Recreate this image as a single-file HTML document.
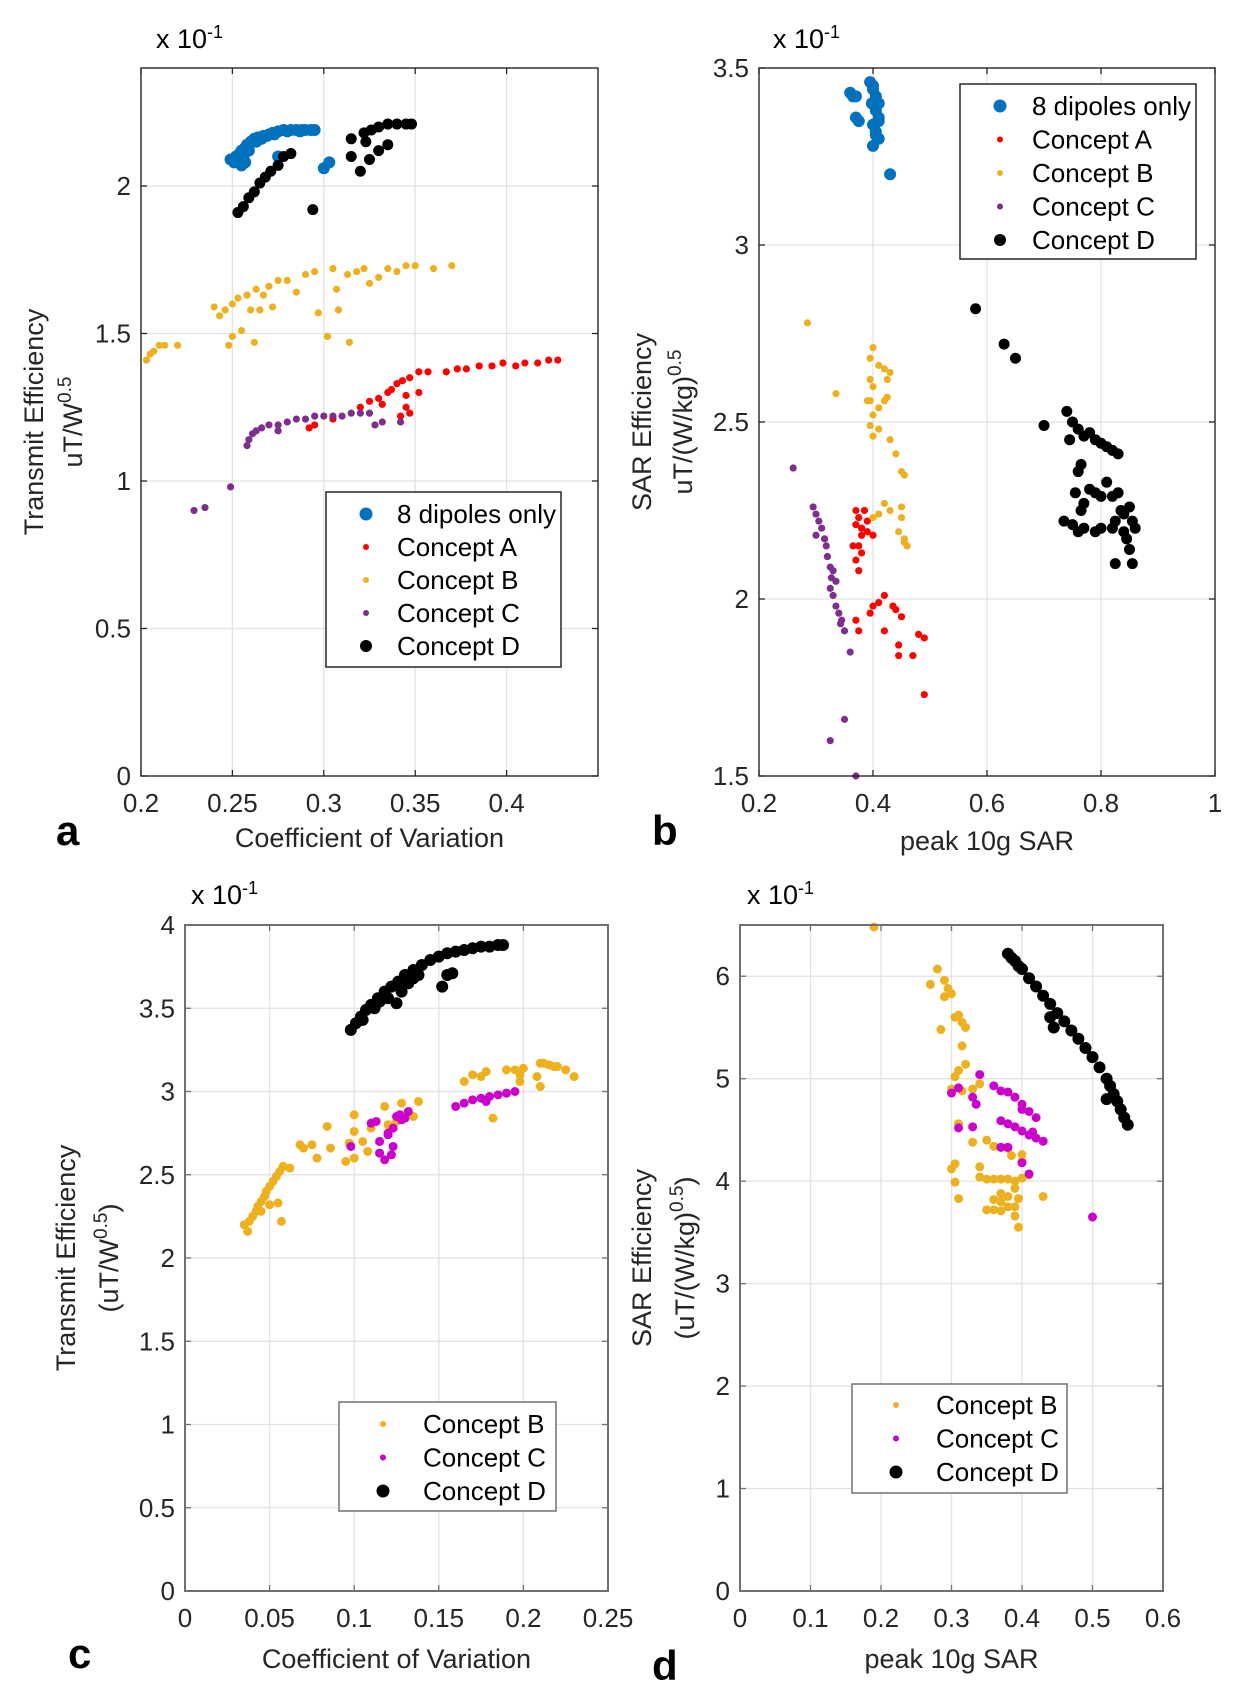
<!DOCTYPE html>
<html><head><meta charset="utf-8">
<style>
html,body{margin:0;padding:0;background:#fff;}
svg{display:block;font-family:"Liberation Sans",Arial,sans-serif;}
</style></head>
<body>
<svg id="fig" width="1244" height="1687" viewBox="0 0 1244 1687" xmlns="http://www.w3.org/2000/svg"></svg>
<script>
// ---------- Panel a data ----------
const aDipoles=[[0.249,2.09],[0.251,2.08],[0.252,2.10],[0.254,2.11],[0.255,2.12],[0.257,2.13],[0.258,2.14],[0.260,2.15],[0.262,2.16],[0.264,2.165],[0.267,2.17],[0.270,2.175],[0.272,2.18],[0.275,2.185],[0.278,2.19],[0.282,2.19],[0.285,2.19],[0.288,2.19],[0.290,2.19],[0.293,2.19],[0.295,2.19],[0.255,2.07],[0.257,2.08],[0.300,2.06],[0.303,2.08],[0.275,2.10],[0.253,2.09],[0.256,2.10],[0.259,2.12],[0.263,2.15],[0.266,2.16],[0.269,2.17],[0.273,2.175],[0.280,2.185],[0.287,2.185]];
const aConceptA=[[0.292,1.18],[0.295,1.19],[0.305,1.21],[0.32,1.25],[0.325,1.27],[0.33,1.28],[0.332,1.26],[0.337,1.31],[0.34,1.33],[0.343,1.34],[0.347,1.35],[0.352,1.37],[0.357,1.37],[0.367,1.37],[0.373,1.38],[0.378,1.38],[0.385,1.39],[0.392,1.39],[0.398,1.40],[0.405,1.39],[0.41,1.40],[0.417,1.40],[0.423,1.41],[0.428,1.41],[0.342,1.22],[0.345,1.25],[0.347,1.23],[0.352,1.30],[0.335,1.30],[0.345,1.29]];
const aConceptB=[[0.203,1.41],[0.205,1.43],[0.207,1.44],[0.21,1.46],[0.213,1.46],[0.22,1.46],[0.24,1.59],[0.243,1.56],[0.246,1.58],[0.25,1.60],[0.253,1.62],[0.258,1.63],[0.263,1.65],[0.267,1.63],[0.27,1.66],[0.275,1.68],[0.28,1.68],[0.285,1.64],[0.29,1.70],[0.295,1.71],[0.305,1.72],[0.307,1.65],[0.313,1.70],[0.318,1.71],[0.322,1.72],[0.325,1.67],[0.33,1.69],[0.335,1.72],[0.34,1.71],[0.345,1.73],[0.35,1.73],[0.36,1.72],[0.37,1.73],[0.248,1.46],[0.25,1.49],[0.255,1.51],[0.262,1.47],[0.265,1.58],[0.272,1.59],[0.297,1.57],[0.302,1.49],[0.308,1.58],[0.314,1.47],[0.26,1.58]];
const aConceptC=[[0.229,0.90],[0.235,0.91],[0.249,0.98],[0.258,1.12],[0.259,1.14],[0.261,1.16],[0.263,1.17],[0.266,1.18],[0.27,1.19],[0.275,1.19],[0.28,1.20],[0.285,1.21],[0.29,1.21],[0.295,1.22],[0.3,1.22],[0.305,1.22],[0.31,1.22],[0.315,1.23],[0.32,1.23],[0.325,1.23],[0.328,1.19],[0.332,1.20],[0.342,1.20],[0.275,1.17]];
const aConceptD=[[0.253,1.91],[0.256,1.93],[0.259,1.96],[0.262,1.98],[0.265,2.01],[0.268,2.03],[0.271,2.05],[0.275,2.07],[0.278,2.10],[0.282,2.11],[0.294,1.92],[0.315,2.16],[0.315,2.10],[0.32,2.05],[0.322,2.18],[0.326,2.19],[0.33,2.20],[0.335,2.21],[0.34,2.21],[0.345,2.21],[0.348,2.21],[0.33,2.12],[0.325,2.09],[0.335,2.14],[0.323,2.15]];
const aXTicks=[0.2,0.25,0.3,0.35,0.4];
const aYTicks=[0,0.5,1,1.5,2];
// ---------- Panel b data ----------
const bDipoles=[[0.36,3.43],[0.365,3.42],[0.37,3.42],[0.375,3.35],[0.37,3.36],[0.395,3.46],[0.40,3.44],[0.405,3.42],[0.41,3.40],[0.405,3.38],[0.41,3.36],[0.40,3.34],[0.405,3.32],[0.41,3.30],[0.40,3.28],[0.405,3.31],[0.41,3.35],[0.398,3.40],[0.43,3.20],[0.40,3.45]];
const bConceptA=[[0.37,2.25],[0.375,2.23],[0.38,2.20],[0.385,2.25],[0.39,2.22],[0.38,2.18],[0.375,2.15],[0.39,2.19],[0.37,2.21],[0.38,2.13],[0.365,2.15],[0.37,2.11],[0.375,2.08],[0.40,2.18],[0.37,1.94],[0.375,1.91],[0.395,1.96],[0.40,1.98],[0.42,2.01],[0.435,1.98],[0.44,1.97],[0.45,1.95],[0.42,1.91],[0.445,1.87],[0.445,1.84],[0.47,1.84],[0.48,1.90],[0.49,1.89],[0.49,1.73],[0.41,1.99]];
const bConceptB=[[0.285,2.78],[0.335,2.58],[0.40,2.71],[0.395,2.68],[0.41,2.66],[0.42,2.65],[0.43,2.64],[0.425,2.62],[0.395,2.62],[0.40,2.60],[0.39,2.56],[0.395,2.56],[0.41,2.54],[0.42,2.56],[0.425,2.57],[0.40,2.52],[0.395,2.49],[0.40,2.46],[0.41,2.48],[0.43,2.45],[0.44,2.41],[0.45,2.36],[0.455,2.35],[0.40,2.23],[0.41,2.24],[0.42,2.27],[0.43,2.25],[0.45,2.26],[0.45,2.23],[0.445,2.19],[0.455,2.17],[0.46,2.15],[0.455,2.16]];
const bConceptC=[[0.26,2.37],[0.295,2.26],[0.30,2.24],[0.305,2.22],[0.31,2.20],[0.30,2.18],[0.315,2.17],[0.318,2.15],[0.32,2.12],[0.325,2.09],[0.327,2.06],[0.325,2.03],[0.33,2.01],[0.335,1.98],[0.34,1.96],[0.343,1.93],[0.35,1.91],[0.335,2.05],[0.33,2.08],[0.36,1.85],[0.35,1.66],[0.325,1.60],[0.37,1.50],[0.345,1.94]];
const bConceptD=[[0.58,2.82],[0.63,2.72],[0.65,2.68],[0.70,2.49],[0.74,2.53],[0.75,2.50],[0.76,2.48],[0.77,2.46],[0.78,2.47],[0.79,2.45],[0.80,2.44],[0.81,2.43],[0.82,2.42],[0.83,2.41],[0.745,2.45],[0.765,2.38],[0.76,2.36],[0.755,2.30],[0.77,2.27],[0.78,2.31],[0.79,2.30],[0.80,2.29],[0.81,2.33],[0.82,2.29],[0.83,2.30],[0.735,2.22],[0.75,2.21],[0.76,2.19],[0.77,2.20],[0.765,2.25],[0.79,2.19],[0.80,2.20],[0.82,2.20],[0.825,2.22],[0.835,2.25],[0.84,2.24],[0.85,2.26],[0.855,2.22],[0.86,2.20],[0.84,2.19],[0.845,2.17],[0.85,2.14],[0.825,2.10],[0.855,2.10]];
const bXTicks=[0.2,0.4,0.6,0.8,1];
const bYTicks=[1.5,2,2.5,3,3.5];
// ---------- Panel c data ----------
const cConceptB=[[0.035,2.20],[0.037,2.16],[0.038,2.22],[0.04,2.25],[0.042,2.28],[0.043,2.31],[0.045,2.34],[0.047,2.37],[0.048,2.40],[0.05,2.43],[0.052,2.46],[0.054,2.49],[0.056,2.52],[0.058,2.55],[0.045,2.28],[0.05,2.32],[0.055,2.33],[0.057,2.22],[0.062,2.54],[0.068,2.68],[0.07,2.66],[0.075,2.68],[0.078,2.60],[0.084,2.79],[0.086,2.66],[0.095,2.58],[0.097,2.69],[0.1,2.60],[0.1,2.86],[0.1,2.76],[0.105,2.70],[0.108,2.64],[0.11,2.78],[0.118,2.91],[0.12,2.80],[0.125,2.82],[0.128,2.93],[0.135,2.85],[0.138,2.94],[0.165,3.06],[0.17,3.10],[0.175,3.09],[0.178,3.12],[0.182,2.84],[0.19,3.13],[0.195,3.13],[0.198,3.10],[0.198,3.06],[0.2,3.14],[0.21,3.17],[0.212,3.17],[0.215,3.16],[0.218,3.15],[0.22,3.15],[0.225,3.13],[0.23,3.09],[0.21,3.03],[0.208,3.09]];
const cConceptC=[[0.098,2.67],[0.11,2.81],[0.113,2.82],[0.115,2.70],[0.115,2.63],[0.118,2.59],[0.12,2.75],[0.122,2.62],[0.123,2.67],[0.123,2.78],[0.125,2.85],[0.127,2.86],[0.13,2.84],[0.132,2.88],[0.16,2.91],[0.165,2.93],[0.17,2.95],[0.175,2.96],[0.18,2.97],[0.185,2.98],[0.19,2.99],[0.195,3.00],[0.178,2.94],[0.12,2.74],[0.128,2.83]];
const cConceptD=[[0.098,3.37],[0.101,3.41],[0.104,3.45],[0.107,3.49],[0.11,3.52],[0.114,3.56],[0.118,3.60],[0.122,3.63],[0.126,3.66],[0.13,3.70],[0.135,3.73],[0.14,3.76],[0.145,3.79],[0.15,3.81],[0.155,3.83],[0.16,3.84],[0.165,3.85],[0.17,3.86],[0.175,3.87],[0.18,3.87],[0.185,3.88],[0.188,3.88],[0.105,3.43],[0.112,3.50],[0.12,3.56],[0.125,3.53],[0.132,3.65],[0.138,3.70],[0.152,3.63],[0.155,3.70],[0.158,3.71],[0.115,3.54],[0.128,3.60],[0.135,3.68]];
const cXTicks=[0,0.05,0.1,0.15,0.2,0.25];
const cYTicks=[0,0.5,1,1.5,2,2.5,3,3.5,4];
// ---------- Panel d data ----------
const dConceptB=[[0.19,6.48],[0.27,5.92],[0.28,6.07],[0.29,5.96],[0.295,5.88],[0.30,5.83],[0.29,5.80],[0.285,5.48],[0.305,5.60],[0.31,5.62],[0.315,5.55],[0.32,5.50],[0.315,5.32],[0.305,5.02],[0.31,5.08],[0.32,5.14],[0.30,4.90],[0.315,4.88],[0.33,4.90],[0.34,4.95],[0.31,4.56],[0.33,4.38],[0.35,4.40],[0.36,4.34],[0.30,4.12],[0.305,4.17],[0.305,3.99],[0.31,3.83],[0.34,4.14],[0.34,4.04],[0.35,4.02],[0.36,4.02],[0.37,4.02],[0.38,4.02],[0.39,4.00],[0.40,4.03],[0.37,3.88],[0.37,3.80],[0.38,3.85],[0.38,3.75],[0.39,3.75],[0.39,3.66],[0.395,3.55],[0.35,3.72],[0.36,3.72],[0.36,3.82],[0.37,3.71],[0.395,3.83],[0.40,4.19],[0.40,4.26],[0.38,4.32],[0.385,4.25],[0.43,3.85],[0.41,4.06],[0.39,3.93]];
const dConceptC=[[0.30,4.86],[0.31,4.91],[0.33,4.82],[0.335,4.75],[0.34,5.04],[0.36,4.93],[0.37,4.88],[0.38,4.87],[0.39,4.82],[0.40,4.75],[0.41,4.68],[0.42,4.62],[0.31,4.52],[0.33,4.53],[0.37,4.59],[0.38,4.56],[0.39,4.53],[0.40,4.49],[0.41,4.45],[0.42,4.42],[0.43,4.39],[0.38,4.33],[0.37,4.33],[0.40,4.18],[0.41,4.07],[0.50,3.65],[0.40,4.70],[0.415,4.48]];
const dConceptD=[[0.38,6.22],[0.385,6.18],[0.39,6.15],[0.395,6.10],[0.40,6.07],[0.41,5.98],[0.42,5.90],[0.43,5.81],[0.44,5.73],[0.45,5.64],[0.46,5.56],[0.47,5.47],[0.48,5.39],[0.49,5.30],[0.50,5.21],[0.51,5.11],[0.52,5.00],[0.525,4.93],[0.53,4.85],[0.535,4.78],[0.54,4.70],[0.545,4.62],[0.55,4.55],[0.44,5.60],[0.445,5.50],[0.52,4.80],[0.53,4.83]];
const dXTicks=[0,0.1,0.2,0.3,0.4,0.5,0.6];
const dYTicks=[0,1,2,3,4,5,6];

const NS="http://www.w3.org/2000/svg";
const svg=document.getElementById('fig');
function el(tag,attrs,parent){const e=document.createElementNS(NS,tag);for(const k in attrs)e.setAttribute(k,attrs[k]);(parent||svg).appendChild(e);return e;}
function txt(s,attrs,parent){const t=el('text',attrs,parent);t.textContent=s;return t;}

function panel(p){
  const g=el('g',{});
  
  
  const X=v=>p.L+(v-p.x0)/(p.x1-p.x0)*(p.R-p.L);
  const Y=v=>p.B-(v-p.y0)/(p.y1-p.y0)*(p.B-p.T);
  el('rect',{x:p.L,y:p.T,width:p.R-p.L,height:p.B-p.T,fill:'#fff'},g);
  const grid=el('g',{stroke:'#e3e3e3','stroke-width':1.3},g);
  
  
  p.xt.forEach(v=>{const x=X(v);if(x>p.L+1&&x<p.R-1)el('line',{x1:x,x2:x,y1:p.T,y2:p.B},grid);});
  p.yt.forEach(v=>{const y=Y(v);if(y>p.T+1&&y<p.B-1)el('line',{x1:p.L,x2:p.R,y1:y,y2:y},grid);});
  const tk=el('g',{stroke:p.axc,'stroke-width':1.3},g);
  p.xt.forEach(v=>{const x=X(v);el('line',{x1:x,x2:x,y1:p.B,y2:p.B-6},tk);el('line',{x1:x,x2:x,y1:p.T,y2:p.T+6},tk);});
  p.yt.forEach(v=>{const y=Y(v);el('line',{x1:p.L,x2:p.L+6,y1:y,y2:y},tk);el('line',{x1:p.R,x2:p.R-6,y1:y,y2:y},tk);});
  p.series.forEach(s=>{
    const sg=el('g',{fill:s.c},g);
    
    
    s.d.forEach(pt=>{const c=el('circle',{cx:X(pt[0]),cy:Y(pt[1]),r:s.r},sg);
      
      });
  });
  const box=el('rect',{x:p.L,y:p.T,width:p.R-p.L,height:p.B-p.T,fill:'none',stroke:p.axc,'stroke-width':p.axw},g);
  
  
  p.xt.forEach(v=>{const t=txt(String(v),{x:X(v),y:p.B+36,'font-size':26,fill:'#262626','text-anchor':'middle'},g);
    });
  p.yt.forEach(v=>{const t=txt(String(v),{x:p.L-10,y:Y(v)+9,'font-size':26,fill:'#262626','text-anchor':'end'},g);
    });
  const m=txt('x 10',{x:p.mx,y:p.my,'font-size':27,fill:'#000'},g);
  
  const ms=el('tspan',{dy:-10,'font-size':18},m);ms.textContent='-1';
  const xt=txt(p.xtitle,{x:(p.L+p.R)/2,y:p.xty,'font-size':27,fill:'#262626','text-anchor':'middle'},g);
  
  const yc=(p.T+p.B)/2+p.ydy;
  const y1=txt(p.ytitle1,{x:p.ytx1,y:yc,'font-size':27,fill:'#262626','text-anchor':'middle',transform:`rotate(-90 ${p.ytx1} ${yc})`},g);
  
  const y2=txt(p.ytitle2a,{x:p.ytx2,y:yc,'font-size':27,fill:'#262626','text-anchor':'middle',transform:`rotate(-90 ${p.ytx2} ${yc})`},g);
  
  const sup=el('tspan',{dy:-11,'font-size':19},y2);sup.textContent='0.5';
  if(p.ytitle2b){const t2=el('tspan',{dy:11},y2);t2.textContent=p.ytitle2b;}
  const pl=txt(p.letter,{x:p.lx,y:p.ly,'font-size':42,'font-weight':'bold',fill:'#000'},g);
  
  const lg=el('g',{},g);
  
  
  const lgr=p.leg;
  el('rect',{x:lgr.x,y:lgr.y,width:lgr.w,height:lgr.h,fill:'#fff',stroke:p.axc,'stroke-width':1.5},lg);
  p.series.forEach((s,i)=>{
    const yy=lgr.y+lgr.r0+i*lgr.dy;
    const e=el('g',{},lg);
    
    
    el('circle',{cx:lgr.mx,cy:yy,r:s.r>4.5?s.r+0.5:3,fill:s.c},e);
    txt(s.label,{x:lgr.tx,y:yy+9,'font-size':26,fill:'#000'},e);
  });
}

const BLUE='#0072BD',RED='#FF0000',ORG='#EDB120',PUR='#7E2F8E',BLK='#000',MAG='#CC00CC';
panel({name:'panel-a',L:141,R:598,T:68,B:776,x0:0.2,x1:0.45,y0:0,y1:2.4,xt:aXTicks,yt:aYTicks,axc:'#262626',axw:1.4,
  mx:156,my:48,xtitle:'Coefficient of Variation',xty:847,ytitle1:'Transmit Efficiency',ytitle2a:'uT/W',ytx1:43,ytx2:82,ydy:0,letter:'a',lx:56,ly:845,
  leg:{x:326,y:492,w:235,h:175,r0:22,dy:33,mx:366,tx:397},
  series:[{n:'8-dipoles-only',label:'8 dipoles only',c:BLUE,r:6,d:aDipoles},{n:'concept-a',label:'Concept A',c:RED,r:3.6,d:aConceptA},{n:'concept-b',label:'Concept B',c:ORG,r:3.6,d:aConceptB},{n:'concept-c',label:'Concept C',c:PUR,r:3.6,d:aConceptC},{n:'concept-d',label:'Concept D',c:BLK,r:5.5,d:aConceptD}]});
panel({name:'panel-b',L:759,R:1215,T:68,B:776,x0:0.2,x1:1,y0:1.5,y1:3.5,xt:bXTicks,yt:bYTicks,axc:'#262626',axw:1.4,
  mx:773,my:48,xtitle:'peak 10g SAR',xty:850,ytitle1:'SAR Efficiency',ytitle2a:'uT/(W/kg)',ytx1:651,ytx2:692,ydy:0,letter:'b',lx:652,ly:845,
  leg:{x:960,y:84,w:236,h:175,r0:22,dy:33.5,mx:1000,tx:1032},
  series:[{n:'8-dipoles-only',label:'8 dipoles only',c:BLUE,r:6,d:bDipoles},{n:'concept-a',label:'Concept A',c:RED,r:3.6,d:bConceptA},{n:'concept-b',label:'Concept B',c:ORG,r:3.6,d:bConceptB},{n:'concept-c',label:'Concept C',c:PUR,r:3.6,d:bConceptC},{n:'concept-d',label:'Concept D',c:BLK,r:5.5,d:bConceptD}]});
panel({name:'panel-c',L:185,R:608,T:925,B:1591,x0:0,x1:0.25,y0:0,y1:4,xt:cXTicks,yt:cYTicks,axc:'#707070',axw:2,
  mx:191,my:904,xtitle:'Coefficient of Variation',xty:1668,ytitle1:'Transmit Efficiency',ytitle2a:'(uT/W',ytitle2b:')',ytx1:75,ytx2:118,ydy:0,letter:'c',lx:68,ly:1668,
  leg:{x:339,y:1402,w:217,h:109,r0:22,dy:33.5,mx:383,tx:423},
  series:[{n:'concept-b',label:'Concept B',c:ORG,r:4.5,d:cConceptB},{n:'concept-c',label:'Concept C',c:MAG,r:4.5,d:cConceptC},{n:'concept-d',label:'Concept D',c:BLK,r:6,d:cConceptD}]});
panel({name:'panel-d',L:740,R:1163,T:925,B:1591,x0:0,x1:0.6,y0:0,y1:6.5,xt:dXTicks,yt:dYTicks,axc:'#707070',axw:2,
  mx:747,my:904,xtitle:'peak 10g SAR',xty:1668,ytitle1:'SAR Efficiency',ytitle2a:'(uT/(W/kg)',ytitle2b:')',ytx1:651,ytx2:694,ydy:0,letter:'d',lx:652,ly:1680,
  leg:{x:852,y:1384,w:215,h:109,r0:21,dy:33.5,mx:896,tx:936},
  series:[{n:'concept-b',label:'Concept B',c:ORG,r:4.5,d:dConceptB},{n:'concept-c',label:'Concept C',c:MAG,r:4.5,d:dConceptC},{n:'concept-d',label:'Concept D',c:BLK,r:6,d:dConceptD}]});
</script>
</body></html>
